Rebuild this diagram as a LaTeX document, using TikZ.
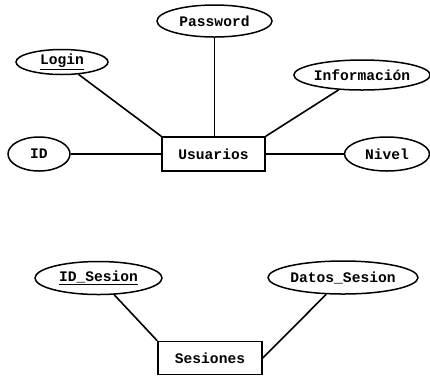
\documentclass[tikz,border=0pt]{standalone}
\usepackage{fontspec}
\setmonofont{Liberation Mono}
\usetikzlibrary{shapes.geometric}
\begin{document}
\begin{tikzpicture}[x=1pt,y=-1pt,
  attr/.style={draw,ellipse,line width=1.5pt,inner sep=0pt,font=\fontsize{14.6}{16}\ttfamily\bfseries},
  ent/.style={draw,rectangle,line width=1.5pt,inner sep=0pt,font=\fontsize{14.6}{16}\ttfamily\bfseries},
  link/.style={line width=1.6pt}]
\useasboundingbox (0,0) rectangle (430,376);
\node[ent,minimum width=103pt,minimum height=34pt] (usu) at (213.5,154) {Usuarios};
\node[attr,minimum width=115pt,minimum height=32pt] (pwd) at (214.5,21) {Password};
\node[attr,minimum width=92pt,minimum height=25pt] (login) at (62,62) {\underline{Login}};
\node[attr,minimum width=135pt,minimum height=30pt] (info) at (362,75) {Información};
\node[attr,minimum width=62pt,minimum height=34pt] (id) at (39,154) {ID};
\node[attr,minimum width=85pt,minimum height=34pt] (nivel) at (387,154) {Nivel};
\draw[link] (pwd) -- (usu.north -| pwd);
\draw[link] (login) -- (usu.north west);
\draw[link] (info) -- (usu.north east);
\draw[link] (id) -- (usu);
\draw[link] (nivel) -- (usu);
\node[ent,minimum width=104pt,minimum height=33pt] (ses) at (210,358) {Sesiones};
\node[attr,minimum width=127pt,minimum height=33pt] (ids) at (98.5,278) {\underline{ID\_Sesion}};
\node[attr,minimum width=150pt,minimum height=33pt] (datos) at (343,277.5) {Datos\_Sesion};
\draw[link] (ids) -- (ses.north west);
\draw[link] (datos) -- (ses.east);
\end{tikzpicture}
\end{document}
